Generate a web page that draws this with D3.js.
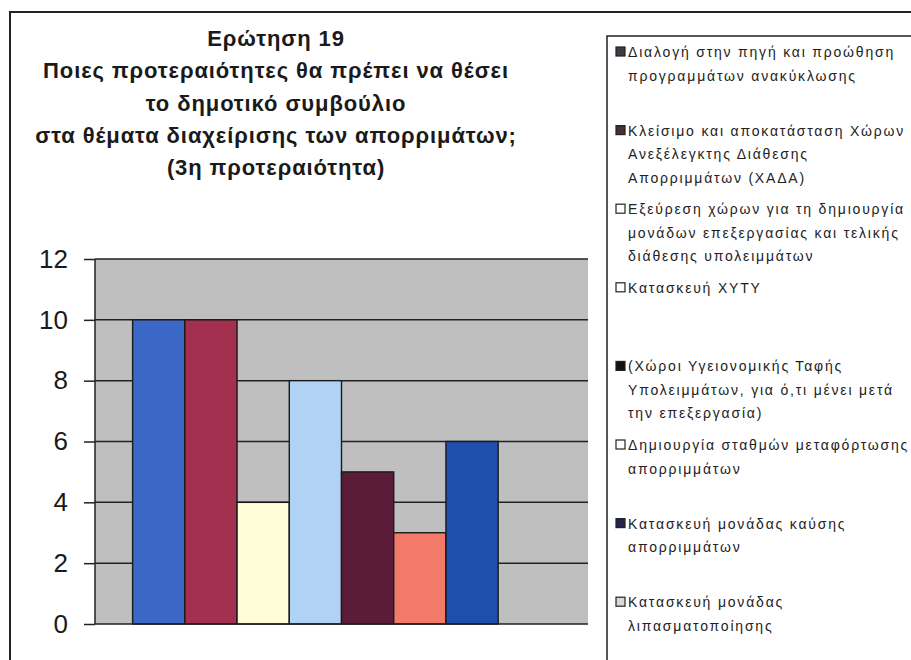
<!DOCTYPE html>
<html>
<head>
<meta charset="utf-8">
<script src="https://cdn.jsdelivr.net/npm/d3@7"></script>
<style>
  body { margin: 0; background: #fff; }
  svg { display: block; }
  .title { font-family: "Liberation Sans", Arial, sans-serif; font-weight: bold; font-size: 22px; letter-spacing: 0.9px; fill: #1a1a1a; }
  .tick text { font-family: "Liberation Sans", Arial, sans-serif; font-size: 26px; fill: #1a1a1a; }
  .legend text { font-family: "Liberation Sans", Arial, sans-serif; font-size: 14px; fill: #222; letter-spacing: 1.8px; }
</style>
</head>
<body>
<svg width="911" height="660"></svg>
<script>
// data
const titleLines = [
  'Ερώτηση 19',
  'Ποιες προτεραιότητες θα πρέπει να θέσει',
  'το δημοτικό συμβούλιο',
  'στα θέματα διαχείρισης των απορριμάτων;',
  '(3η προτεραιότητα)'
]
const series = [
  ['Διαλογή στην πηγή και προώθηση', 'προγραμμάτων ανακύκλωσης'],
  ['Κλείσιμο και αποκατάσταση Χώρων', 'Ανεξέλεγκτης Διάθεσης', 'Απορριμμάτων (ΧΑΔΑ)'],
  ['Εξεύρεση χώρων για τη δημιουργία', 'μονάδων επεξεργασίας και τελικής', 'διάθεσης υπολειμμάτων'],
  ['Κατασκευή ΧΥΤΥ'],
  ['(Χώροι Υγειονομικής Ταφής', 'Υπολειμμάτων, για ό,τι μένει μετά', 'την επεξεργασία)'],
  ['Δημιουργία σταθμών μεταφόρτωσης', 'απορριμμάτων'],
  ['Κατασκευή μονάδας καύσης', 'απορριμμάτων'],
  ['Κατασκευή μονάδας', 'λιπασματοποίησης']
]
const values = [10, 10, 4, 8, 5, 3, 6, 0]
const yTicks = [0, 2, 4, 6, 8, 10, 12]

const barColors = ['#3b67c6', '#a2304e', '#fffcd6', '#b0d3f5', '#5a1c38', '#f27a6a', '#1e4eae', '#ccffff']
const swatchColors = ['#3c3c44', '#4a2c3e', '#fff', '#fff', '#111', '#fff', '#23244e', '#d8d8d8']

const svg = d3.select('svg')

// outer frame and legend box
svg.append('path')
  .attr('d', 'M10,675 L10,12 L915,12')
  .attr('fill', 'none').attr('stroke', '#222').attr('stroke-width', 2)
svg.append('path')
  .attr('d', 'M607,675 L607,36 L915,36')
  .attr('fill', 'none').attr('stroke', '#222').attr('stroke-width', 1.5)

// title
svg.append('text')
  .attr('class', 'title')
  .attr('text-anchor', 'middle')
  .selectAll('tspan').data(titleLines)
  .enter().append('tspan')
    .attr('x', 276)
    .attr('y', (d, i) => 46 + i * 32.3)
    .text(d => d)

// plot
const pLeft = 95, pRight = 588, pTop = 259, pBottom = 624
const y = d3.scaleLinear().domain([0, 12]).range([pBottom, pTop])
const x = d3.scaleBand().domain(d3.range(values.length))
  .range([pLeft, pRight]).paddingInner(0).paddingOuter(0.72)

svg.append('rect')
  .attr('x', pLeft).attr('y', pTop)
  .attr('width', pRight - pLeft).attr('height', pBottom - pTop)
  .attr('fill', '#bfbfbf')

svg.append('g')
  .selectAll('line').data(yTicks.filter(d => d > 0))
  .enter().append('line')
    .attr('x1', pLeft).attr('x2', pRight)
    .attr('y1', d => y(d)).attr('y2', d => y(d))
    .attr('stroke', '#222').attr('stroke-width', 1.5)

svg.append('g')
  .selectAll('rect').data(values)
  .enter().append('rect')
    .attr('x', (d, i) => x(i))
    .attr('y', d => y(d))
    .attr('width', x.bandwidth())
    .attr('height', d => pBottom - y(d))
    .attr('fill', (d, i) => barColors[i])
    .attr('stroke', '#1a1a1a').attr('stroke-width', 1.4)

const yAxis = svg.append('g')
  .attr('transform', `translate(${pLeft},0)`)
  .call(d3.axisLeft(y).tickValues(yTicks).tickSize(11).tickPadding(16))
yAxis.selectAll('line, path').attr('stroke', '#222').attr('stroke-width', 1.5)
yAxis.select('.domain').attr('d', `M0,${pTop}V${pBottom}`)
yAxis.attr('font-family', null).attr('font-size', null)

svg.append('line')
  .attr('x1', pLeft).attr('x2', pRight)
  .attr('y1', pBottom).attr('y2', pBottom)
  .attr('stroke', '#222').attr('stroke-width', 1.5)

// legend
const step = 78.6
const legend = svg.append('g').attr('class', 'legend')
const item = legend.selectAll('g').data(series)
  .enter().append('g')
    .attr('transform', (d, i) => `translate(616,${52 + i * step})`)
item.append('rect')
  .attr('x', 0).attr('y', -5)
  .attr('width', 9).attr('height', 9)
  .attr('fill', (d, i) => swatchColors[i])
  .attr('stroke', '#222').attr('stroke-width', 1.2)
item.append('text')
  .selectAll('tspan').data(d => d)
  .enter().append('tspan')
    .attr('x', 12)
    .attr('y', (d, i) => 5 + i * 23.5)
    .text(d => d)
</script>
</body>
</html>
